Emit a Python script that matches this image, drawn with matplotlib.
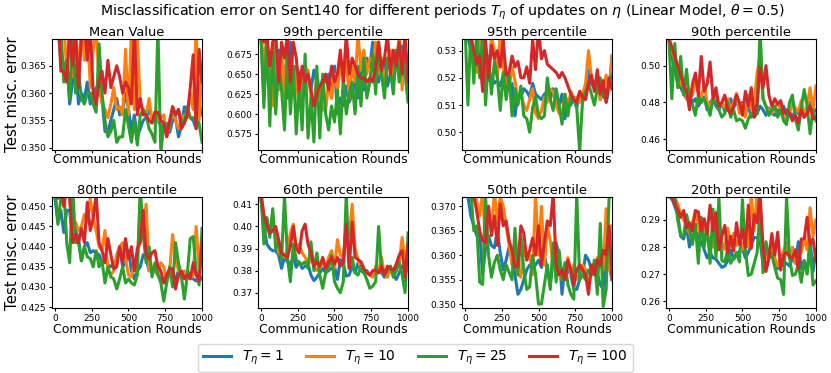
import numpy as np
import matplotlib
matplotlib.use("Agg")
import matplotlib.pyplot as plt
from matplotlib.ticker import MultipleLocator, FormatStrFormatter

rounds = np.arange(0, 1001, 20)
labels = [r"$T_\eta=1$", r"$T_\eta=10$", r"$T_\eta=25$", r"$T_\eta=100$"]
titles = ["Mean Value", "99th percentile", "95th percentile", "90th percentile",
          "80th percentile", "60th percentile", "50th percentile", "20th percentile"]

mean_t1 = [0.378,0.372,0.366,0.365,0.366,0.358,0.362,0.365,0.358,0.360,
           0.359,0.362,0.358,0.359,0.361,0.360,0.359,0.353,0.3528,0.355,
           0.357,0.359,0.356,0.357,0.360,0.357,0.353,0.356,0.352,0.3535,
           0.355,0.3555,0.357,0.3555,0.3548,0.355,0.354,0.3535,0.3545,0.3528,
           0.355,0.3555,0.352,0.354,0.3575,0.357,0.3555,0.355,0.3535,0.358,0.356]
mean_t10 = [0.378,0.375,0.372,0.373,0.364,0.371,0.363,0.372,0.362,0.374,
            0.366,0.373,0.361,0.368,0.372,0.362,0.358,0.357,0.3555,0.358,
            0.361,0.357,0.3575,0.356,0.368,0.356,0.372,0.357,0.370,0.358,
            0.357,0.356,0.359,0.355,0.3565,0.355,0.3555,0.356,0.352,0.354,
            0.357,0.355,0.3535,0.355,0.356,0.3555,0.360,0.357,0.372,0.355,0.365]
mean_t25 = [0.380,0.374,0.372,0.362,0.366,0.359,0.372,0.360,0.364,0.359,
            0.358,0.360,0.360,0.358,0.3565,0.369,0.360,0.355,0.352,0.353,
            0.355,0.351,0.352,0.352,0.357,0.354,0.351,0.355,0.3505,0.356,
            0.357,0.356,0.3535,0.3525,0.351,0.372,0.349,0.3545,0.3535,0.354,
            0.3575,0.356,0.357,0.355,0.3545,0.3575,0.3555,0.3555,0.355,0.3545,0.351]
mean_t100 = [0.380,0.376,0.364,0.364,0.362,0.372,0.365,0.371,0.361,0.370,
             0.373,0.366,0.372,0.360,0.358,0.362,0.364,0.360,0.366,0.361,
             0.363,0.365,0.363,0.360,0.362,0.361,0.358,0.372,0.356,0.359,
             0.356,0.356,0.355,0.3545,0.3565,0.3565,0.355,0.3545,0.352,0.355,
             0.3575,0.356,0.357,0.3535,0.3545,0.356,0.361,0.367,0.3535,0.368,0.362]

p99_t1 = [0.70,0.62,0.69,0.63,0.66,0.62,0.68,0.63,0.66,0.62,
          0.69,0.64,0.66,0.65,0.62,0.66,0.65,0.63,0.655,0.64,
          0.63,0.645,0.64,0.65,0.62,0.66,0.60,0.62,0.61,0.635,
          0.615,0.625,0.64,0.62,0.655,0.63,0.67,0.66,0.69,0.655,
          0.64,0.66,0.67,0.635,0.65,0.66,0.67,0.65,0.685,0.66,0.665]
p99_t10 = [0.70,0.66,0.70,0.64,0.61,0.70,0.63,0.68,0.62,0.70,
           0.63,0.66,0.64,0.61,0.65,0.64,0.655,0.62,0.61,0.65,
           0.63,0.605,0.605,0.64,0.62,0.65,0.63,0.66,0.645,0.67,
           0.62,0.66,0.64,0.70,0.655,0.68,0.65,0.67,0.66,0.69,
           0.65,0.67,0.64,0.66,0.68,0.645,0.66,0.70,0.63,0.69,0.625]
p99_t25 = [0.70,0.608,0.70,0.585,0.69,0.60,0.66,0.63,0.58,0.68,
           0.60,0.66,0.575,0.64,0.58,0.675,0.57,0.62,0.565,0.66,
           0.57,0.65,0.60,0.58,0.61,0.59,0.63,0.575,0.645,0.60,
           0.625,0.64,0.60,0.66,0.61,0.67,0.62,0.64,0.675,0.625,
           0.69,0.65,0.62,0.67,0.655,0.625,0.68,0.64,0.67,0.65,0.615]
p99_t100 = [0.70,0.69,0.70,0.66,0.69,0.70,0.64,0.69,0.67,0.70,
            0.64,0.69,0.67,0.63,0.66,0.64,0.65,0.63,0.61,0.625,
            0.635,0.64,0.65,0.63,0.66,0.64,0.65,0.68,0.64,0.70,
            0.65,0.67,0.66,0.65,0.645,0.645,0.64,0.645,0.64,0.66,
            0.69,0.655,0.67,0.70,0.65,0.68,0.66,0.69,0.65,0.70,0.64]

p95_t1 = [0.54,0.535,0.53,0.527,0.525,0.523,0.52,0.522,0.519,0.521,
          0.518,0.519,0.517,0.521,0.522,0.516,0.518,0.506,0.514,0.513,
          0.516,0.515,0.513,0.518,0.514,0.513,0.512,0.514,0.515,0.512,
          0.516,0.514,0.510,0.514,0.505,0.512,0.510,0.513,0.509,0.515,
          0.511,0.515,0.523,0.518,0.516,0.521,0.512,0.517,0.511,0.516,0.528]
p95_t10 = [0.54,0.535,0.538,0.526,0.522,0.537,0.518,0.525,0.521,0.535,
           0.530,0.520,0.537,0.524,0.518,0.516,0.524,0.519,0.512,0.514,
           0.510,0.508,0.512,0.516,0.507,0.505,0.508,0.513,0.511,0.516,
           0.515,0.510,0.507,0.506,0.514,0.509,0.515,0.512,0.513,0.511,
           0.514,0.518,0.530,0.520,0.517,0.519,0.512,0.516,0.521,0.515,0.528]
p95_t25 = [0.54,0.510,0.538,0.518,0.537,0.520,0.536,0.510,0.528,0.514,
           0.526,0.520,0.508,0.522,0.512,0.521,0.506,0.516,0.510,0.517,
           0.506,0.505,0.500,0.509,0.513,0.506,0.505,0.506,0.520,0.512,
           0.508,0.516,0.510,0.503,0.514,0.506,0.513,0.512,0.509,0.493,
           0.512,0.515,0.518,0.514,0.510,0.516,0.520,0.513,0.512,0.519,0.521]
p95_t100 = [0.54,0.538,0.535,0.530,0.525,0.528,0.515,0.534,0.520,0.532,
            0.527,0.530,0.524,0.534,0.521,0.522,0.528,0.524,0.526,0.520,
            0.520,0.524,0.518,0.534,0.523,0.538,0.527,0.530,0.525,0.524,
            0.523,0.522,0.520,0.522,0.520,0.517,0.514,0.512,0.511,0.515,
            0.513,0.512,0.518,0.521,0.515,0.523,0.514,0.519,0.511,0.520,0.516]

p90_t1 = [0.515,0.505,0.498,0.490,0.488,0.485,0.482,0.484,0.480,0.482,
          0.478,0.481,0.483,0.476,0.480,0.482,0.478,0.476,0.480,0.475,
          0.478,0.482,0.477,0.481,0.476,0.480,0.474,0.478,0.472,0.476,
          0.474,0.478,0.476,0.473,0.477,0.474,0.473,0.476,0.474,0.478,
          0.473,0.475,0.472,0.476,0.474,0.478,0.472,0.475,0.480,0.474,0.476]
p90_t10 = [0.515,0.508,0.503,0.497,0.490,0.488,0.482,0.487,0.484,0.492,
           0.486,0.483,0.490,0.480,0.478,0.482,0.484,0.478,0.480,0.477,
           0.482,0.476,0.480,0.485,0.474,0.479,0.472,0.484,0.476,0.480,
           0.496,0.505,0.482,0.478,0.476,0.474,0.477,0.480,0.476,0.472,
           0.470,0.474,0.480,0.477,0.475,0.481,0.474,0.478,0.488,0.476,0.489]
p90_t25 = [0.515,0.482,0.512,0.488,0.505,0.484,0.498,0.481,0.479,0.473,
           0.484,0.480,0.482,0.478,0.473,0.482,0.480,0.476,0.472,0.474,
           0.480,0.472,0.476,0.470,0.471,0.470,0.466,0.471,0.474,0.472,
           0.474,0.520,0.482,0.478,0.473,0.476,0.478,0.472,0.476,0.470,
           0.468,0.480,0.484,0.471,0.465,0.477,0.487,0.478,0.463,0.476,0.470]
p90_t100 = [0.515,0.510,0.505,0.500,0.495,0.490,0.486,0.476,0.490,0.496,
            0.484,0.505,0.486,0.490,0.502,0.482,0.488,0.478,0.480,0.484,
            0.476,0.474,0.478,0.484,0.480,0.473,0.486,0.478,0.488,0.472,
            0.480,0.499,0.488,0.500,0.484,0.478,0.482,0.479,0.481,0.474,
            0.476,0.474,0.470,0.473,0.469,0.476,0.472,0.474,0.478,0.471,0.472]

p80_t1 = [0.452,0.446,0.449,0.4435,0.449,0.449,0.442,0.444,0.442,0.4365,
          0.440,0.441,0.4385,0.439,0.4385,0.438,0.436,0.437,0.4355,0.435,
          0.436,0.437,0.440,0.435,0.436,0.439,0.434,0.432,0.434,0.435,
          0.438,0.437,0.434,0.435,0.434,0.433,0.432,0.431,0.4315,0.434,
          0.433,0.432,0.434,0.433,0.4325,0.434,0.433,0.432,0.4315,0.433,0.432]
p80_t10 = [0.455,0.452,0.455,0.450,0.455,0.453,0.441,0.446,0.444,0.445,
           0.448,0.446,0.452,0.447,0.444,0.440,0.439,0.444,0.434,0.433,
           0.434,0.438,0.440,0.441,0.437,0.433,0.4325,0.436,0.437,0.4505,
           0.445,0.4505,0.434,0.435,0.434,0.433,0.436,0.435,0.4315,0.434,
           0.443,0.437,0.434,0.432,0.434,0.433,0.432,0.433,0.445,0.435,0.437]
p80_t25 = [0.455,0.4455,0.452,0.455,0.441,0.436,0.455,0.441,0.441,0.4365,
           0.440,0.4375,0.437,0.435,0.439,0.435,0.4365,0.431,0.435,0.4325,
           0.432,0.4295,0.432,0.435,0.431,0.432,0.431,0.4305,0.433,0.455,
           0.443,0.436,0.440,0.4325,0.436,0.433,0.431,0.4265,0.431,0.435,
           0.430,0.441,0.436,0.4325,0.427,0.433,0.442,0.4425,0.434,0.4305,0.4445]
p80_t100 = [0.455,0.452,0.455,0.450,0.455,0.452,0.441,0.443,0.441,0.4445,
            0.441,0.451,0.444,0.447,0.453,0.441,0.439,0.436,0.442,0.438,
            0.4345,0.435,0.440,0.436,0.442,0.437,0.440,0.434,0.4395,0.441,
            0.449,0.438,0.437,0.4385,0.439,0.435,0.434,0.431,0.433,0.4345,
            0.4345,0.4295,0.433,0.434,0.432,0.433,0.432,0.436,0.433,0.4315,0.441]

p60_t1 = [0.412,0.400,0.392,0.390,0.389,0.389,0.387,0.381,0.386,0.384,
          0.383,0.386,0.3815,0.384,0.381,0.382,0.383,0.378,0.3755,0.377,
          0.379,0.381,0.379,0.380,0.381,0.382,0.376,0.385,0.383,0.3775,
          0.378,0.382,0.379,0.3835,0.380,0.379,0.380,0.378,0.379,0.3785,
          0.380,0.379,0.377,0.380,0.382,0.378,0.376,0.379,0.382,0.381,0.383]
p60_t10 = [0.415,0.405,0.402,0.398,0.400,0.396,0.388,0.387,0.386,0.390,
           0.397,0.401,0.390,0.392,0.388,0.386,0.384,0.385,0.382,0.380,
           0.381,0.384,0.381,0.386,0.389,0.381,0.394,0.387,0.386,0.401,
           0.396,0.410,0.390,0.385,0.381,0.380,0.379,0.378,0.377,0.382,
           0.379,0.386,0.378,0.377,0.380,0.381,0.380,0.384,0.395,0.384,0.380]
p60_t25 = [0.415,0.392,0.404,0.395,0.408,0.390,0.393,0.385,0.414,0.386,
           0.375,0.392,0.385,0.383,0.383,0.384,0.381,0.393,0.380,0.388,
           0.378,0.372,0.379,0.381,0.387,0.375,0.372,0.370,0.375,0.415,
           0.381,0.386,0.379,0.378,0.382,0.379,0.376,0.372,0.373,0.375,
           0.400,0.380,0.378,0.380,0.382,0.377,0.380,0.384,0.378,0.370,0.397]
p60_t100 = [0.415,0.405,0.401,0.397,0.398,0.400,0.394,0.388,0.387,0.386,
            0.391,0.400,0.390,0.388,0.398,0.401,0.392,0.388,0.382,0.384,
            0.382,0.386,0.381,0.384,0.386,0.383,0.386,0.382,0.384,0.401,
            0.381,0.402,0.386,0.385,0.384,0.381,0.379,0.378,0.380,0.380,
            0.379,0.382,0.378,0.382,0.381,0.380,0.383,0.387,0.389,0.377,0.392]

p50_t1 = [0.375,0.372,0.368,0.366,0.364,0.3645,0.356,0.3615,0.364,0.362,
          0.3615,0.365,0.3605,0.357,0.359,0.3617,0.3595,0.356,0.352,0.353,
          0.355,0.357,0.358,0.3575,0.358,0.359,0.3575,0.360,0.357,0.354,
          0.359,0.3625,0.360,0.352,0.358,0.357,0.356,0.353,0.353,0.355,
          0.356,0.360,0.359,0.357,0.358,0.356,0.354,0.353,0.362,0.358,0.355]
p50_t10 = [0.375,0.374,0.373,0.374,0.371,0.368,0.373,0.362,0.370,0.365,
           0.373,0.3665,0.372,0.370,0.366,0.362,0.358,0.361,0.356,0.3555,
           0.362,0.359,0.360,0.356,0.3725,0.360,0.370,0.358,0.366,0.363,
           0.3575,0.359,0.356,0.355,0.357,0.3595,0.356,0.358,0.355,0.356,
           0.358,0.357,0.354,0.356,0.357,0.3595,0.358,0.357,0.3695,0.357,0.366]
p50_t25 = [0.375,0.374,0.373,0.365,0.366,0.3545,0.354,0.372,0.360,0.3555,
           0.3585,0.360,0.357,0.355,0.358,0.3565,0.355,0.3655,0.356,0.364,
           0.357,0.353,0.3535,0.360,0.356,0.350,0.350,0.354,0.358,0.353,
           0.3625,0.3545,0.361,0.355,0.3585,0.354,0.352,0.351,0.3725,0.355,
           0.356,0.355,0.357,0.356,0.359,0.352,0.3665,0.3495,0.353,0.372,0.372]
p50_t100 = [0.375,0.374,0.373,0.372,0.369,0.365,0.363,0.3625,0.370,0.364,
            0.368,0.362,0.3705,0.366,0.367,0.363,0.361,0.3575,0.358,0.366,
            0.3645,0.359,0.361,0.3635,0.360,0.366,0.358,0.3625,0.367,0.366,
            0.3725,0.358,0.356,0.357,0.355,0.359,0.357,0.354,0.357,0.358,
            0.357,0.356,0.352,0.358,0.356,0.359,0.358,0.361,0.360,0.366,0.355]

p20_t1 = [0.2985,0.298,0.295,0.292,0.284,0.283,0.2875,0.280,0.284,0.286,
          0.284,0.282,0.279,0.276,0.278,0.276,0.2755,0.274,0.2725,0.273,
          0.275,0.279,0.2755,0.277,0.2785,0.2795,0.276,0.278,0.281,0.2835,
          0.2835,0.282,0.274,0.272,0.276,0.278,0.275,0.272,0.276,0.274,
          0.274,0.273,0.276,0.274,0.282,0.272,0.275,0.2705,0.2825,0.271,0.279]
p20_t10 = [0.300,0.299,0.298,0.296,0.292,0.290,0.288,0.285,0.289,0.293,
           0.288,0.283,0.288,0.285,0.281,0.280,0.293,0.284,0.282,0.279,
           0.287,0.280,0.285,0.2805,0.283,0.279,0.285,0.280,0.300,0.286,
           0.300,0.284,0.279,0.276,0.2785,0.281,0.276,0.273,0.276,0.2785,
           0.2815,0.276,0.280,0.274,0.276,0.278,0.283,0.279,0.2945,0.284,0.290]
p20_t25 = [0.300,0.2975,0.299,0.290,0.2845,0.284,0.292,0.287,0.281,0.2885,
           0.274,0.291,0.280,0.288,0.274,0.294,0.276,0.298,0.275,0.2745,
           0.279,0.274,0.276,0.278,0.2745,0.2975,0.279,0.2695,0.270,0.274,
           0.278,0.2955,0.2705,0.282,0.276,0.277,0.2725,0.2685,0.268,0.2625,
           0.2985,0.276,0.2695,0.270,0.2735,0.267,0.275,0.270,0.2805,0.266,0.2675]
p20_t100 = [0.300,0.2985,0.296,0.294,0.291,0.2935,0.287,0.289,0.286,0.2935,
            0.293,0.286,0.2905,0.285,0.2955,0.286,0.2925,0.279,0.284,0.288,
            0.278,0.284,0.2785,0.289,0.281,0.2865,0.280,0.2955,0.2795,0.292,
            0.289,0.300,0.280,0.271,0.276,0.285,0.277,0.2855,0.2715,0.277,
            0.278,0.2765,0.276,0.279,0.272,0.283,0.283,0.291,0.281,0.283,0.275]

panels = [
    [mean_t1, mean_t10, mean_t25, mean_t100],
    [p99_t1, p99_t10, p99_t25, p99_t100],
    [p95_t1, p95_t10, p95_t25, p95_t100],
    [p90_t1, p90_t10, p90_t25, p90_t100],
    [p80_t1, p80_t10, p80_t25, p80_t100],
    [p60_t1, p60_t10, p60_t25, p60_t100],
    [p50_t1, p50_t10, p50_t25, p50_t100],
    [p20_t1, p20_t10, p20_t25, p20_t100],
]

ylims = [(0.3496, 0.3699), (0.555, 0.694), (0.4935, 0.5343), (0.4542, 0.5145),
         (0.4248, 0.4523), (0.3631, 0.4133), (0.3492, 0.3719), (0.2575, 0.2985)]
ysteps = [0.005, 0.025, 0.01, 0.02, 0.005, 0.01, 0.005, 0.01]
yfmts = ["%.3f", "%.3f", "%.2f", "%.2f", "%.3f", "%.2f", "%.3f", "%.2f"]

colors = ["#1f77b4", "#ff7f0e", "#2ca02c", "#d62728"]

fig = plt.figure(figsize=(8.31, 3.73), dpi=100)
lefts = [0.0626, 0.3105, 0.5560, 0.8014]
bottoms = [0.598, 0.1743]
w, h = 0.1805, 0.2976

handles = None
for i in range(8):
    r, c = divmod(i, 4)
    ax = fig.add_axes([lefts[c], bottoms[r], w, h])
    hs = []
    for s, col, lab in zip(panels[i], colors, labels):
        ln, = ax.plot(rounds, s, color=col, lw=2.2, label=lab)
        hs.append(ln)
    handles = hs
    ax.set_xlim(-20, 1000)
    ax.set_ylim(*ylims[i])
    ax.yaxis.set_major_locator(MultipleLocator(ysteps[i]))
    ax.yaxis.set_major_formatter(FormatStrFormatter(yfmts[i]))
    ax.xaxis.set_major_locator(MultipleLocator(250))
    ax.tick_params(labelsize=6.5, length=2.5, pad=1.5)
    ax.set_title(titles[i], fontsize=9.4, pad=2)
    ax.set_xlabel("Communication Rounds", fontsize=9.0, labelpad=0)
    if r == 0:
        ax.tick_params(labelbottom=False)
    if c == 0:
        ax.set_ylabel("Test misc. error", fontsize=10.8, labelpad=0.5)

fig.suptitle(r"Misclassification error on Sent140 for different periods $T_\eta$ of updates on $\eta$ (Linear Model, $\theta=0.5$)",
             fontsize=10.2, x=0.532, y=0.992)
fig.legend(handles, labels, loc="lower center", ncol=4, bbox_to_anchor=(0.5, -0.015),
           fontsize=10, handlelength=2.0, columnspacing=1.6, frameon=True,
           borderpad=0.35)

fig.savefig("out.png", dpi=100)
